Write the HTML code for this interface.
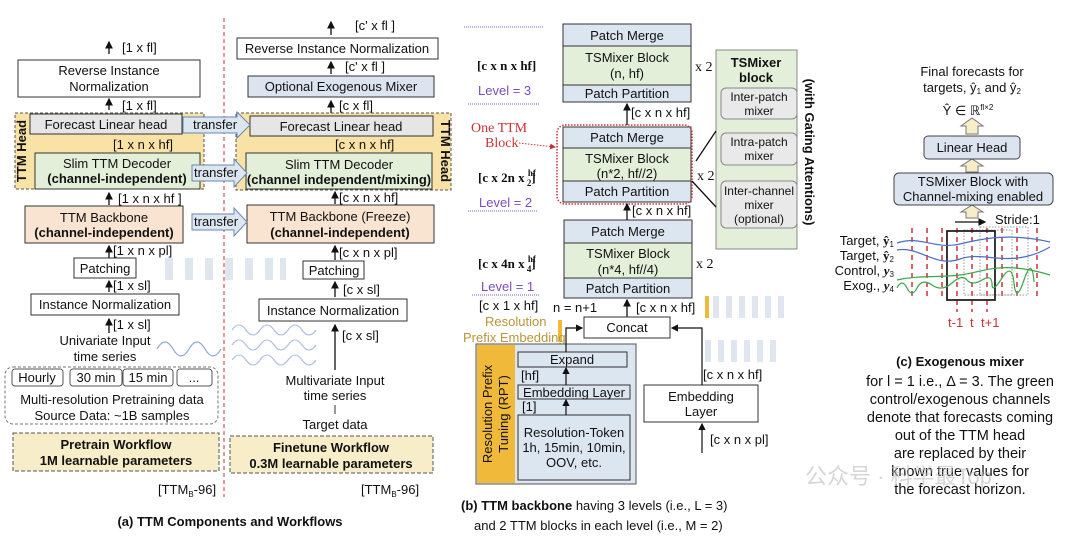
<!DOCTYPE html>
<html><head><meta charset="utf-8"><style>
html,body{margin:0;padding:0;background:#fff;}
svg{display:block;font-family:"Liberation Sans",Arial,sans-serif;}
.t{font-size:13px;fill:#111;}
.b{font-weight:bold;}
.s{font-family:"Liberation Serif",serif;font-weight:bold;font-size:13px;fill:#111;}
</style></head><body>
<svg width="1080" height="546" viewBox="0 0 1080 546" xmlns="http://www.w3.org/2000/svg">
<defs>
<marker id="ah" markerWidth="6" markerHeight="6" refX="5" refY="3" orient="auto"><path d="M0,0 L6,3 L0,6 z" fill="#111"/></marker>
<marker id="ar" markerWidth="6" markerHeight="6" refX="5" refY="3" orient="auto"><path d="M0,0 L6,3 L0,6 z" fill="#b33"/></marker>
</defs>
<g stroke="#111" stroke-width="1.3" marker-end="url(#ah)">
<line x1="109" y1="54" x2="109" y2="42"/><line x1="109" y1="110" x2="109" y2="99"/>
<line x1="109" y1="151" x2="109" y2="140"/><line x1="109" y1="205" x2="109" y2="193"/>
<line x1="109" y1="258" x2="109" y2="246"/><line x1="109" y1="292" x2="109" y2="281"/>
<line x1="109" y1="333" x2="109" y2="319"/>
<line x1="331" y1="35" x2="331" y2="22"/><line x1="331" y1="74" x2="331" y2="62"/>
<line x1="331" y1="114" x2="331" y2="101"/><line x1="331" y1="152" x2="331" y2="140"/>
<line x1="335" y1="204" x2="335" y2="192"/><line x1="335" y1="260" x2="335" y2="246"/>
<line x1="335" y1="297" x2="335" y2="282"/><line x1="335" y1="370" x2="335" y2="325"/>
</g>
<g fill="#dfe6f0"><rect x="165" y="258" width="8" height="22"/><rect x="185" y="258" width="8" height="22"/><rect x="205" y="258" width="8" height="22"/><rect x="225" y="258" width="8" height="22"/><rect x="245" y="258" width="8" height="22"/><rect x="265" y="258" width="8" height="22"/><rect x="280" y="258" width="6" height="22"/></g>
<text class="t" x="122" y="52">[1 x fl]</text>
<rect x="18" y="60" width="182" height="37" fill="#fff" stroke="#333"/>
<text class="t" x="109" y="75" text-anchor="middle">Reverse Instance</text><text class="t" x="109" y="91" text-anchor="middle">Normalization</text>
<text class="t" x="122" y="110">[1 x fl]</text>
<rect x="15" y="113" width="189" height="76" fill="#f9e2a6" stroke="#555" stroke-dasharray="3,2"/>
<text class="t b" transform="translate(26,151) rotate(-90)" text-anchor="middle">TTM Head</text>
<rect x="30" y="114" width="152" height="20" fill="#e6e6e6" stroke="#333"/>
<text class="t" x="106" y="129" text-anchor="middle">Forecast Linear head</text>
<text class="t" x="113" y="149">[1 x  n x hf]</text>
<rect x="35" y="153" width="165" height="36" fill="#e4efd9" stroke="#333"/>
<text class="t" x="117" y="168" text-anchor="middle">Slim TTM Decoder</text><text class="t b" x="117" y="183" text-anchor="middle">(channel-independent)</text>
<text class="t" x="118" y="203">[1 x n x hf ]</text>
<rect x="25" y="206" width="158" height="37" fill="#f9e4d1" stroke="#333"/>
<text class="t" x="104" y="222" text-anchor="middle">TTM Backbone</text><text class="t b" x="104" y="237" text-anchor="middle">(channel-independent)</text>
<text class="t" x="113" y="255">[1 x n x pl]</text>
<rect x="74" y="258" width="62" height="20" fill="#fff" stroke="#333"/>
<text class="t" x="105" y="273" text-anchor="middle">Patching</text>
<text class="t" x="113" y="290">[1 x sl]</text>
<rect x="31" y="294" width="148" height="21" fill="#fff" stroke="#333"/>
<text class="t" x="105" y="309" text-anchor="middle">Instance Normalization</text>
<text class="t" x="113" y="329">[1 x sl]</text>
<text class="t" x="105" y="345" text-anchor="middle">Univariate Input</text><text class="t" x="105" y="361" text-anchor="middle">time series</text>
<path d="M157,349 q8,-14 16,0 t16,0 t16,0 t16,0" fill="none" stroke="#8ea4d6" stroke-width="1.2"/>
<rect x="5" y="367" width="213" height="57" rx="8" fill="none" stroke="#777" stroke-dasharray="3,2"/>
<g fill="#fff" stroke="#555"><rect x="12" y="369" width="51" height="17" rx="3"/><rect x="70" y="369" width="52" height="17" rx="3"/><rect x="123" y="369" width="50" height="17" rx="3"/><rect x="177" y="369" width="35" height="17" rx="3"/></g>
<g text-anchor="middle"><text x="37" y="382" class="t">Hourly</text><text x="96" y="382" class="t">30 min</text><text x="148" y="382" class="t">15 min</text><text x="194" y="382" class="t">...</text></g>
<text class="t" x="112" y="404" text-anchor="middle">Multi-resolution Pretraining data</text>
<text class="t" x="112" y="420" text-anchor="middle">Source Data: ~1B samples</text>
<rect x="13" y="433" width="206" height="38" fill="#f8edc9" stroke="#555" stroke-dasharray="4,2"/>
<text class="t b" x="116" y="449" text-anchor="middle">Pretrain Workflow</text><text class="t b" x="116" y="465" text-anchor="middle">1M learnable parameters</text>
<text class="t" x="158" y="494">[TTM<tspan font-size="8" dy="3">B</tspan><tspan dy="-3">-96]</tspan></text>
<line x1="224" y1="18" x2="224" y2="497" stroke="#c33" stroke-dasharray="4,3"/>
<text class="t b" x="230" y="526" text-anchor="middle" font-size="15">(a) TTM Components and Workflows</text>
<!-- right col -->
<text class="t" x="355" y="30">[c' x fl ]</text>
<rect x="237" y="38" width="201" height="21" fill="#fff" stroke="#333"/>
<text class="t" x="337" y="53" text-anchor="middle">Reverse Instance Normalization</text>
<text class="t" x="345" y="71">[c' x fl ]</text>
<rect x="248" y="76" width="186" height="21" fill="#dce4f0" stroke="#333"/>
<text class="t" x="341" y="91" text-anchor="middle">Optional Exogenous Mixer</text>
<text class="t" x="339" y="110">[c x fl]</text>
<rect x="236" y="113" width="215" height="77" fill="#f9e2a6" stroke="#555" stroke-dasharray="3,2"/>
<text class="t b" transform="translate(441,151) rotate(90)" text-anchor="middle">TTM Head</text>
<rect x="250" y="116" width="183" height="20" fill="#e6e6e6" stroke="#333"/>
<text class="t" x="341" y="131" text-anchor="middle">Forecast Linear head</text>
<text class="t" x="335" y="149">[c x n x hf]</text>
<rect x="246" y="153" width="186" height="36" fill="#e4efd9" stroke="#333"/>
<text class="t" x="339" y="169" text-anchor="middle">Slim TTM Decoder</text><text class="t b" x="339" y="184" text-anchor="middle" font-size="12">(channel independent/mixing)</text>
<text class="t" x="339" y="202">[c x n x hf]</text>
<rect x="247" y="205" width="187" height="38" fill="#f9e4d1" stroke="#333"/>
<text class="t" x="340" y="221" text-anchor="middle">TTM Backbone (Freeze)</text><text class="t b" x="340" y="237" text-anchor="middle">(channel-independent)</text>
<text class="t" x="339" y="257">[c x n x pl]</text>
<rect x="303" y="261" width="61" height="18" fill="#fff" stroke="#333"/>
<text class="t" x="334" y="275" text-anchor="middle">Patching</text>
<text class="t" x="343" y="294">[c x sl]</text>
<rect x="259" y="299" width="148" height="22" fill="#fff" stroke="#333"/>
<text class="t" x="333" y="315" text-anchor="middle">Instance Normalization</text>
<text class="t" x="342" y="340">[c x sl]</text>
<g fill="none" stroke="#a9bce2" stroke-width="1.1">
<path d="M232,330 q7,-10 14,0 t14,0 t14,0 t14,0 t14,0 t14,0"/>
<path d="M232,345 q7,-10 14,0 t14,0 t14,0 t14,0 t14,0 t14,0"/>
<path d="M232,360 q7,-10 14,0 t14,0 t14,0 t14,0 t14,0 t14,0"/></g>
<text class="t" x="335" y="385" text-anchor="middle">Multivariate Input</text><text class="t" x="335" y="400" text-anchor="middle">time series</text>
<line x1="335" y1="405" x2="335" y2="414" stroke="#333"/>
<text class="t" x="335" y="429" text-anchor="middle">Target data</text>
<rect x="230" y="436" width="203" height="37" fill="#f8edc9" stroke="#555" stroke-dasharray="4,2"/>
<text class="t b" x="331" y="452" text-anchor="middle">Finetune Workflow</text><text class="t b" x="331" y="468" text-anchor="middle">0.3M learnable parameters</text>
<text class="t" x="361" y="494">[TTM<tspan font-size="8" dy="3">B</tspan><tspan dy="-3">-96]</tspan></text>
<!-- transfer arrows on top -->
<g fill="#dce6f1" stroke="#6a87b0">
<path d="M183,117 h54 v-5 l13,13 l-13,13 v-5 h-54 z"/>
<path d="M192,165 h42 v-6 l13,14 l-13,14 v-6 h-42 z"/>
<path d="M192,214 h42 v-6 l13,14 l-13,14 v-6 h-42 z"/>
</g>
<text x="193" y="129" class="t" font-size="11">transfer</text><text x="194" y="177" class="t" font-size="11">transfer</text><text x="194" y="226" class="t" font-size="11">transfer</text>

<!-- panel b -->
<g stroke="#7a5cc4" stroke-dasharray="1,1" stroke-width="1"><line x1="464" y1="27" x2="543" y2="27"/><line x1="468" y1="104" x2="540" y2="104"/><line x1="468" y1="211" x2="538" y2="211"/><line x1="472" y1="295" x2="540" y2="295"/></g>
<g stroke="#333">
<rect x="563" y="24" width="128" height="22" fill="#dce6f1"/><rect x="563" y="46" width="128" height="39" fill="#e4efd9"/><rect x="563" y="85" width="128" height="17" fill="#dce6f1"/>
<rect x="563" y="127" width="128" height="21" fill="#dce6f1"/><rect x="563" y="148" width="128" height="33" fill="#e4efd9"/><rect x="563" y="181" width="128" height="21" fill="#dce6f1"/>
<rect x="564" y="220" width="128" height="23" fill="#dce6f1"/><rect x="564" y="243" width="128" height="35" fill="#e4efd9"/><rect x="564" y="278" width="128" height="20" fill="#dce6f1"/>
</g>
<g text-anchor="middle">
<text class="t" x="627" y="40">Patch Merge</text><text class="t" x="627" y="62">TSMixer Block</text><text class="t" x="627" y="78">(n, hf)</text><text class="t" x="627" y="98">Patch Partition</text>
<text class="t" x="627" y="142">Patch Merge</text><text class="t" x="627" y="163">TSMixer Block</text><text class="t" x="627" y="178">(n*2, hf//2)</text><text class="t" x="627" y="196">Patch Partition</text>
<text class="t" x="628" y="236">Patch Merge</text><text class="t" x="628" y="258">TSMixer Block</text><text class="t" x="628" y="274">(n*4, hf//4)</text><text class="t" x="628" y="293">Patch Partition</text>
</g>
<rect x="557" y="125" width="135" height="79" rx="8" fill="none" stroke="#c33" stroke-dasharray="1.5,1.5" stroke-width="1.5"/>
<g font-family="Liberation Serif,serif" font-size="14" fill="#111"><text x="695" y="71">x 2</text><text x="697" y="180">x 2</text><text x="696" y="268">x 2</text></g>
<text class="s" x="477" y="70">[c x n x hf]</text>
<text class="s" x="478" y="182">[c x 2n x <tspan font-size="9" dy="-6">hf</tspan><tspan font-size="9" dx="-9" dy="10">2</tspan><tspan dy="-4">]</tspan></text>
<text class="s" x="478" y="268">[c x 4n x <tspan font-size="9" dy="-6">hf</tspan><tspan font-size="9" dx="-9" dy="10">4</tspan><tspan dy="-4">]</tspan></text>
<g fill="#7a4cc0" font-size="13"><text x="478" y="95">Level = 3</text><text x="479" y="207">Level = 2</text><text x="481" y="291">Level = 1</text></g>
<g font-family="Liberation Serif,serif" font-size="14" fill="#c33"><text x="471" y="132">One TTM</text><text x="485" y="147">Block</text></g>
<line x1="519" y1="143" x2="555" y2="147" stroke="#c33" stroke-dasharray="1.5,1.5" marker-end="url(#ar)"/>
<g stroke="#111" stroke-width="1.3" marker-end="url(#ah)"><line x1="627" y1="125" x2="627" y2="104"/><line x1="627" y1="220" x2="627" y2="204"/><line x1="627" y1="317" x2="627" y2="300"/></g>
<text class="t" x="631" y="117">[c x n x hf]</text><text class="t" x="632" y="215">[c x n x hf]</text>
<rect x="716" y="50" width="81" height="199" fill="#e4efd9" stroke="#888"/>
<text class="t b" x="756" y="67" text-anchor="middle">TSMixer</text><text class="t b" x="756" y="82" text-anchor="middle">block</text>
<g fill="#e9e9e9" stroke="#888"><rect x="721" y="88" width="76" height="31" rx="5"/><rect x="721" y="133" width="76" height="32" rx="5"/><rect x="721" y="181" width="76" height="47" rx="5"/></g>
<g font-size="12" fill="#111" text-anchor="middle"><text x="759" y="101">Inter-patch</text><text x="759" y="115">mixer</text><text x="759" y="146">Intra-patch</text><text x="759" y="160">mixer</text><text x="759" y="195">Inter-channel</text><text x="759" y="209">mixer</text><text x="759" y="223">(optional)</text></g>
<text class="t b" transform="translate(805,152) rotate(90)" text-anchor="middle">(with Gating Attentions)</text>
<g stroke="#111" stroke-width="1.3"><line x1="696" y1="161" x2="716" y2="131"/><line x1="692" y1="181" x2="716" y2="207"/></g>
<g fill="#dfe6f0"><rect x="713" y="296" width="6" height="22"/><rect x="726" y="296" width="6" height="22"/><rect x="739" y="296" width="6" height="22"/><rect x="752" y="296" width="6" height="22"/><rect x="765" y="296" width="6" height="22"/><rect x="778" y="296" width="6" height="22"/>
<rect x="705" y="340" width="6" height="22"/><rect x="718" y="340" width="6" height="22"/><rect x="731" y="340" width="6" height="22"/><rect x="744" y="340" width="6" height="22"/><rect x="757" y="340" width="6" height="22"/><rect x="770" y="340" width="6" height="22"/></g>
<rect x="705" y="296" width="4" height="22" fill="#f0b93a"/><rect x="558" y="320" width="4" height="22" fill="#f0b93a"/>
<text class="t" x="479" y="310">[c x 1 x hf]</text><text class="t" x="553" y="312">n = n+1</text><text class="t" x="636" y="312">[c x n x hf]</text>
<g fill="#b8963c" font-size="13"><text x="485" y="326">Resolution</text><text x="463" y="342">Prefix Embedding</text></g>
<rect x="584" y="317" width="86" height="21" fill="#fff" stroke="#333"/>
<text class="t" x="627" y="332" text-anchor="middle">Concat</text>
<rect x="476" y="344" width="160" height="140" fill="#dce6f1" stroke="#555"/>
<rect x="477" y="345" width="38" height="138" fill="#f0b93a"/>
<text class="t" transform="translate(492,414) rotate(-90)" text-anchor="middle">Resolution Prefix</text>
<text class="t" transform="translate(508,414) rotate(-90)" text-anchor="middle">Tuning  (RPT)</text>
<rect x="518" y="352" width="109" height="15" fill="#dce6f1" stroke="#333"/>
<text class="t" x="572" y="364" text-anchor="middle">Expand</text>
<text class="t" x="521" y="380">[hf]</text>
<rect x="518" y="385" width="112" height="14" fill="#dce6f1" stroke="#333"/>
<text class="t" x="574" y="397" text-anchor="middle">Embedding Layer</text>
<text class="t" x="522" y="411">[1]</text>
<rect x="518" y="415" width="112" height="65" fill="#dce6f1" stroke="#333"/>
<text class="t" x="574" y="437" text-anchor="middle">Resolution-Token</text><text class="t" x="574" y="452" text-anchor="middle">1h, 15min, 10min,</text><text class="t" x="574" y="467" text-anchor="middle">OOV, etc.</text>
<rect x="644" y="385" width="114" height="37" fill="#fff" stroke="#333"/>
<text class="t" x="701" y="401" text-anchor="middle">Embedding</text><text class="t" x="701" y="416" text-anchor="middle">Layer</text>
<text class="t" x="703" y="379">[c x n x hf]</text><text class="t" x="710" y="444">[c x n x pl]</text>
<g stroke="#111" stroke-width="1.2" fill="none" marker-end="url(#ah)">
<line x1="566" y1="415" x2="566" y2="400"/><line x1="566" y1="385" x2="566" y2="368"/>
<path d="M566,352 V328 H582"/><path d="M702,385 V328 H672"/><line x1="702" y1="453" x2="702" y2="424"/></g>
<text class="t" x="461" y="510" font-size="15"><tspan font-weight="bold">(b) TTM backbone</tspan> having 3 levels (i.e., L = 3)</text>
<text class="t" x="474" y="530" font-size="15">and 2 TTM blocks in each level (i.e., M = 2)</text>

<!-- panel c -->
<text class="t" x="972" y="76" text-anchor="middle">Final forecasts for</text>
<text class="t" x="972" y="92" text-anchor="middle">targets, ŷ<tspan font-size="8" dy="2">1</tspan><tspan dy="-2"> and ŷ</tspan><tspan font-size="8" dy="2">2</tspan></text>
<text class="t" x="968" y="115" text-anchor="middle" font-size="12">Ŷ ∈ ℝ<tspan font-size="8" dy="-5">fl×2</tspan></text>
<g fill="#f8edc9" stroke="#777"><path d="M966,134 v-8 h-5 l11,-8 l11,8 h-5 v8 z"/><path d="M966,172 v-6 h-5 l11,-7 l11,7 h-5 v6 z"/><path d="M966,218 v-6 h-5 l11,-7 l11,7 h-5 v6 z"/></g>
<rect x="924" y="136" width="96" height="23" rx="4" fill="#dce4f0" stroke="#444"/>
<text class="t" x="972" y="152" text-anchor="middle">Linear Head</text>
<rect x="894" y="173" width="159" height="32" rx="5" fill="#dce4f0" stroke="#444"/>
<text class="t" x="973" y="186" text-anchor="middle">TSMixer Block with</text><text class="t" x="973" y="201" text-anchor="middle">Channel-mixing enabled</text>
<line x1="955" y1="222" x2="985" y2="222" stroke="#111" stroke-width="1.3" marker-end="url(#ah)"/>
<text class="t" x="995" y="224">Stride:1</text>
<g stroke="#c33" stroke-width="1.5" stroke-dasharray="5,4">
<line x1="912" y1="228" x2="912" y2="300"/><line x1="927" y1="228" x2="927" y2="300"/><line x1="942" y1="228" x2="942" y2="300"/><line x1="957" y1="228" x2="957" y2="312"/><line x1="972" y1="228" x2="972" y2="312"/><line x1="987" y1="228" x2="987" y2="312"/><line x1="1002" y1="228" x2="1002" y2="300"/><line x1="1017" y1="228" x2="1017" y2="300"/><line x1="1037" y1="228" x2="1037" y2="300"/></g>
<g fill="none" stroke="#999" stroke-dasharray="1.5,1.5"><rect x="964" y="230" width="48" height="65"/><rect x="980" y="227" width="48" height="68"/></g>
<rect x="947" y="231" width="48" height="69" fill="none" stroke="#222" stroke-width="1.8"/>
<g fill="none" stroke-width="1.2">
<path d="M897,243 C920,235 935,250 960,244 S1010,233 1050,242" stroke="#4a6fc8"/>
<path d="M897,250 C920,246 935,268 960,259 S1010,270 1050,247" stroke="#4a6fc8"/>
<path d="M897,280 C920,275 935,278 960,275 S1000,260 1050,275" stroke="#3aa54a"/>
<path d="M897,288 q5,-10 10,0 t10,0 t15,-3 t20,-2 t15,-3 t15,0 t10,4 t10,-6 t12,5 t10,-3 t10,2" stroke="#3aa54a"/></g>
<g font-size="13" fill="#111" text-anchor="end">
<text x="894" y="245">Target, <tspan font-family="Liberation Serif,serif" font-weight="bold">ŷ</tspan><tspan font-size="8" dy="2">1</tspan></text>
<text x="894" y="260">Target, <tspan font-family="Liberation Serif,serif" font-weight="bold">ŷ</tspan><tspan font-size="8" dy="2">2</tspan></text>
<text x="894" y="275">Control, <tspan font-family="Liberation Serif,serif" font-weight="bold" font-style="italic">y</tspan><tspan font-size="8" dy="2">3</tspan></text>
<text x="894" y="290">Exog., <tspan font-family="Liberation Serif,serif" font-weight="bold" font-style="italic">y</tspan><tspan font-size="8" dy="2">4</tspan></text></g>
<g fill="#c33" font-size="13"><text x="948" y="327">t-1</text><text x="970" y="327">t</text><text x="981" y="327">t+1</text></g>
<text class="t b" x="960" y="366" text-anchor="middle" font-size="15">(c) Exogenous mixer</text>
<g font-size="14.5" fill="#111" text-anchor="middle">
<text x="960" y="386">for l = 1 i.e., Δ = 3. The green</text>
<text x="960" y="404">control/exogenous channels</text>
<text x="960" y="422">denote that forecasts coming</text>
<text x="960" y="440">out of the TTM head</text>
<text x="960" y="458">are replaced by their</text>
<text x="960" y="476">known true values for</text>
<text x="960" y="494">the forecast horizon.</text></g>
<text x="805" y="484" font-size="22" fill="#bbb" fill-opacity="0.6" font-family="Liberation Sans,'Noto Sans CJK SC',sans-serif">公众号 · 科学最Top</text>
</svg>
</body></html>
